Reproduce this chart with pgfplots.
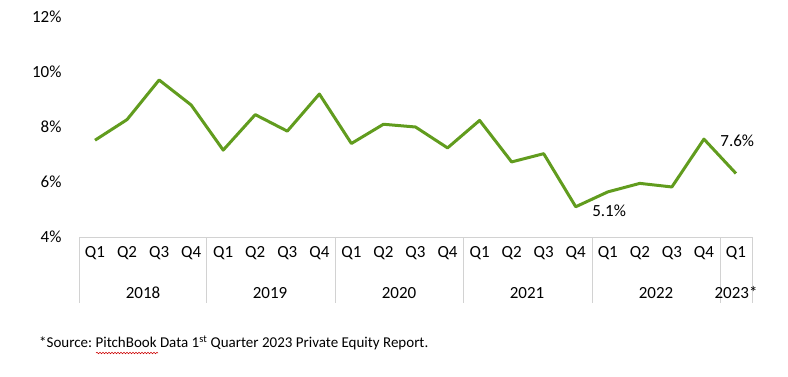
\documentclass[border=0pt]{standalone}
\usepackage{fontspec}
\setmainfont{Carlito}
\usepackage{pgfplots}
\pgfplotsset{compat=1.18}
\usetikzlibrary{decorations.pathmorphing}
\definecolor{linegreen}{RGB}{97,156,30}
\definecolor{tablegray}{RGB}{210,210,210}
\frenchspacing
\begin{document}
\begin{tikzpicture}
\path[use as bounding box] (0pt,0pt) rectangle (788pt,376pt);
\begin{axis}[
  at={(79pt,139pt)}, anchor=south west,
  scale only axis, width=673pt, height=220pt,
  xmin=-0.5, xmax=20.5, ymin=4, ymax=12,
  axis line style={draw=none}, tick style={draw=none},
  ytick={4,6,8,10,12},
  yticklabel={\pgfmathprintnumber{\tick}\%},
  yticklabel style={anchor=east, xshift=-14pt},
  xtick={0,...,20},
  xticklabels={Q1,Q2,Q3,Q4,Q1,Q2,Q3,Q4,Q1,Q2,Q3,Q4,Q1,Q2,Q3,Q4,Q1,Q2,Q3,Q4,Q1},
  xticklabel style={anchor=center, yshift=-16pt},
  /pgf/number format/assume math mode=true,
  tick label style={font=\fontsize{17}{20}\selectfont},
  clip=false,
]
\addplot[linegreen, line width=3pt, line join=round, mark=none] coordinates {
 (0,7.52) (1,8.27) (2,9.71) (3,8.80) (4,7.16) (5,8.45) (6,7.85) (7,9.20)
 (8,7.40) (9,8.10) (10,8.00) (11,7.24) (12,8.24) (13,6.73) (14,7.03) (15,5.10)
 (16,5.64) (17,5.95) (18,5.82) (19,7.56) (20,6.31)
};
\node[anchor=west, xshift=13pt, yshift=-4pt, font=\fontsize{17}{20}\selectfont] at (axis cs:15,5.10) {5.1\%};
\node[anchor=west, xshift=13pt, yshift=-2pt, font=\fontsize{17}{20}\selectfont] at (axis cs:19,7.56) {7.6\%};
\end{axis}
% category table
\draw[tablegray, line width=1pt] (79pt,139pt) -- (752pt,139pt);
\foreach \xx in {79,206,335,463,592,720,752}{
  \draw[tablegray, line width=1pt] (\xx pt,139pt) -- (\xx pt,73pt);
}
\begin{scope}[every node/.style={font=\fontsize{17}{20}\selectfont, anchor=center}]
\node at (143pt,83pt) {2018};
\node at (270pt,83pt) {2019};
\node at (399pt,83pt) {2020};
\node at (527pt,83pt) {2021};
\node at (656pt,83pt) {2022};
\node at (736pt,83pt) {2023*};
\end{scope}
\node[anchor=west, inner sep=0pt, font=\fontsize{15}{18}\selectfont] at (39pt,33pt) {*Source: PitchBook Data 1\textsuperscript{st} Quarter 2023 Private Equity Report.};
\draw[red!80!black, line width=0.5pt, decorate, decoration={snake, amplitude=0.8pt, segment length=3pt}] (96pt,23pt) -- (158pt,23pt);
\end{tikzpicture}
\end{document}
